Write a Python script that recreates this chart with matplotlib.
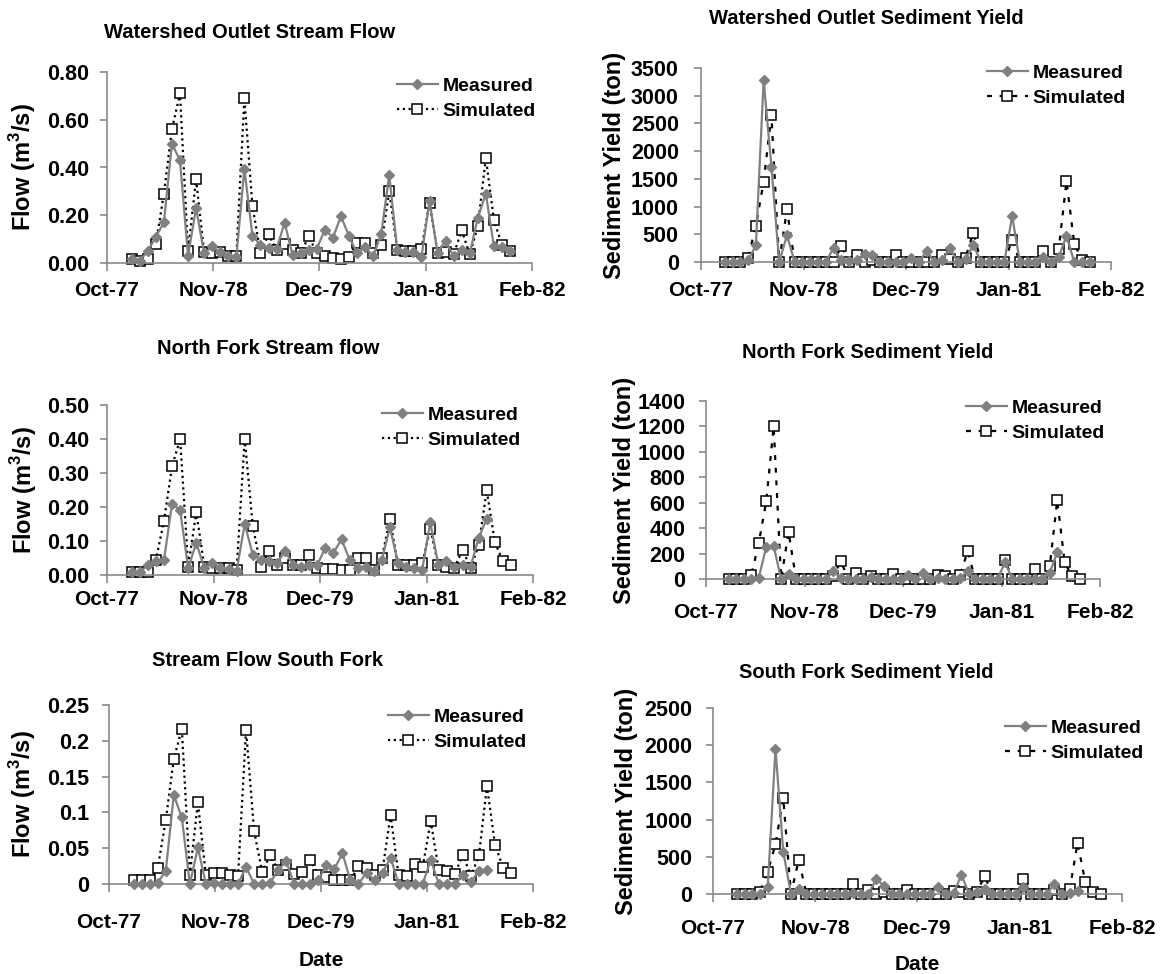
import matplotlib
matplotlib.use('Agg')
import matplotlib.pyplot as plt
import matplotlib.dates as mdates
from matplotlib.ticker import FuncFormatter
import numpy as np
import pandas as pd

nan = np.nan

plt.rcParams['font.family'] = ['Liberation Sans', 'DejaVu Sans']
plt.rcParams['font.weight'] = 'bold'
plt.rcParams['mathtext.fontset'] = 'custom'
plt.rcParams['mathtext.rm'] = 'Liberation Sans:bold'
plt.rcParams['mathtext.bf'] = 'Liberation Sans:bold'

# sampling dates (30 day steps from Jan-78) and axis ticks
dates = pd.date_range('1978-01-01', periods=48, freq='30D')
tick_dates = pd.date_range('1977-10-01', periods=5, freq='13MS')

# Watershed outlet flow (m3/s)
outlet_flow_meas = [0.015, 0.01, 0.05, 0.11, 0.17, 0.50, 0.43, 0.03, 0.23, 0.04,
                    0.07, 0.045, 0.03, 0.025, 0.395, 0.115, 0.074, 0.063, 0.06, 0.168,
                    0.032, 0.04, 0.056, 0.06, 0.14, 0.106, 0.196, 0.112, 0.04, 0.067,
                    0.028, 0.123, 0.368, 0.053, 0.046, 0.045, 0.025, 0.26, 0.043, 0.092,
                    0.028, 0.053, 0.04, 0.19, 0.29, 0.07, 0.065, 0.05]
outlet_flow_sim = [0.015, 0.01, 0.015, 0.08, 0.29, 0.56, 0.71, 0.05, 0.35, 0.045,
                   0.04, 0.045, 0.03, 0.03, 0.69, 0.24, 0.042, 0.12, 0.053, 0.078,
                   0.053, 0.04, 0.113, 0.04, 0.028, 0.022, 0.015, 0.025, 0.085, 0.085,
                   0.042, 0.077, 0.30, 0.053, 0.05, 0.05, 0.06, 0.252, 0.043, 0.046,
                   0.036, 0.137, 0.036, 0.153, 0.44, 0.18, 0.075, 0.05]

# Watershed outlet sediment yield (ton)
outlet_sed_meas = [0, 0, 0, 30, 300, 3280, 1720, 0, 480, 0,
                   0, 0, 0, 0, 250, 30, 20, 30, 150, 130,
                   0, 0, 0, 0, 80, 0, 200, 0, 30, 250,
                   0, 50, 310, 0, 0, 0, 0, 830, 0, 0,
                   0, 90, 0, 90, 470, 0, 0, 0]
outlet_sed_sim = [0, 0, 0, 80, 650, 1450, 2650, 0, 950, 0,
                  0, 0, 0, 0, 0, 290, 0, 130, 0, 30,
                  0, 0, 130, 0, 0, 0, 0, 0, 120, 60,
                  0, 80, 530, 0, 0, 0, 0, 400, 0, 0,
                  0, 200, 0, 230, 1460, 330, 40, 0]

# North fork flow (m3/s)
north_flow_meas = [0.008, 0.008, 0.03, 0.04, 0.045, 0.21, 0.19, 0.02, 0.095, 0.02,
                   0.035, 0.02, 0.018, 0.012, 0.15, 0.06, 0.045, 0.04, 0.035, 0.07,
                   0.03, 0.025, 0.03, 0.03, 0.08, 0.065, 0.105, 0.045, 0.02, 0.025,
                   0.012, 0.045, 0.14, 0.035, 0.025, 0.02, 0.015, 0.155, 0.03, 0.04,
                   0.025, 0.03, 0.025, 0.11, 0.165, nan, nan, nan]
north_flow_sim = [0.008, 0.008, 0.01, 0.045, 0.16, 0.32, 0.40, 0.025, 0.185, 0.025,
                  0.022, 0.02, 0.02, 0.015, 0.40, 0.145, 0.025, 0.07, 0.03, 0.05,
                  0.03, 0.03, 0.06, 0.02, 0.018, 0.018, 0.015, 0.015, 0.05, 0.05,
                  0.015, 0.05, 0.165, 0.03, 0.03, 0.03, 0.035, 0.135, 0.03, 0.025,
                  0.02, 0.075, 0.02, 0.087, 0.249, 0.097, 0.04, 0.03]

# North fork sediment yield (ton)
north_sed_meas = [0, 0, 0, 0, 10, 250, 260, 0, 40, 0,
                  0, 0, 0, 0, 60, 10, 0, 0, 0, 15,
                  0, 0, 0, 0, 30, 0, 50, 0, 10, 0,
                  0, 10, 60, 0, 0, 0, 0, 130, 0, 0,
                  0, 0, 0, 50, 210, nan, nan, nan]
north_sed_sim = [0, 0, 0, 30, 280, 610, 1200, 0, 370, 0,
                 0, 0, 0, 0, 20, 140, 0, 50, 0, 20,
                 0, 0, 40, 0, 0, 0, 0, 0, 30, 25,
                 0, 30, 220, 0, 0, 0, 0, 150, 0, 0,
                 0, 80, 0, 100, 620, 130, 20, 0]

# South fork flow (m3/s)
south_flow_meas = [0, 0, 0, 0.002, 0.018, 0.124, 0.093, 0, 0.051, 0,
                   0.002, 0, 0, 0, 0.024, 0, 0, 0.002, 0.019, 0.032,
                   0, 0, 0, 0.005, 0.027, 0.021, 0.043, 0.005, 0, 0.016,
                   0.005, 0.016, 0.037, 0, 0, 0, 0, 0.034, 0, 0,
                   0, 0.012, 0.003, 0.018, 0.02, nan, nan, nan]
south_flow_sim = [0.005, 0.005, 0.005, 0.022, 0.089, 0.174, 0.217, 0.013, 0.114, 0.012,
                  0.016, 0.015, 0.013, 0.011, 0.215, 0.074, 0.017, 0.04, 0.019, 0.027,
                  0.014, 0.017, 0.034, 0.012, 0.01, 0.006, 0.005, 0.005, 0.025, 0.023,
                  0.013, 0.02, 0.096, 0.012, 0.011, 0.028, 0.024, 0.088, 0.019, 0.018,
                  0.014, 0.041, 0.011, 0.04, 0.137, 0.055, 0.023, 0.015]

# South fork sediment yield (ton)
south_sed_meas = [0, 0, 0, 0, 100, 1950, 570, 0, 70, 0,
                  0, 0, 0, 0, 0, 10, 0, 0, 200, 110,
                  0, 0, 0, 0, 0, 0, 100, 0, 10, 260,
                  0, 30, 70, 0, 0, 0, 0, 100, 0, 0,
                  0, 130, 0, 20, 40, nan, nan, nan]
south_sed_sim = [0, 0, 0, 30, 300, 670, 1290, 0, 460, 0,
                 0, 0, 0, 0, 0, 130, 0, 60, 0, 30,
                 0, 0, 60, 0, 0, 0, 0, 0, 40, 30,
                 0, 30, 240, 0, 0, 0, 0, 200, 0, 0,
                 0, 60, 0, 70, 690, 160, 30, 0]

titles = ['Watershed Outlet Stream Flow', 'Watershed Outlet Sediment Yield',
          'North Fork Stream flow', 'North Fork Sediment Yield',
          'Stream Flow South Fork', 'South Fork Sediment Yield']

W, H = 1160, 974
fig = plt.figure(figsize=(W / 100, H / 100), dpi=100)

def px_axes(l, r, t, b):
    return fig.add_axes([l / W, 1 - b / H, (r - l) / W, (b - t) / H])

# layout in pixels: axes box, title centre, ylabel x, legend anchor, xtick pad, ytick pad
panels = [
    dict(meas=outlet_flow_meas, sim=outlet_flow_sim, box=(107, 532, 72, 263),
         ymax=0.8, step=0.2, fmt='{:.2f}', kind='flow', title=(250, 32),
         ylx=23, leg=(536, 77), xpad=7, ypad=8),
    dict(meas=outlet_sed_meas, sim=outlet_sed_sim, box=(701, 1111, 68, 262),
         ymax=3500, step=500, fmt='{:.0f}', kind='sed', title=(866, 18),
         ylx=615, leg=(1126, 64), xpad=8, ypad=11),
    dict(meas=north_flow_meas, sim=north_flow_sim, box=(107, 533, 405, 575),
         ymax=0.5, step=0.1, fmt='{:.2f}', kind='flow', title=(268, 348),
         ylx=24, leg=(521, 406), xpad=5, ypad=8),
    dict(meas=north_sed_meas, sim=north_sed_sim, box=(706, 1100, 401, 579),
         ymax=1400, step=200, fmt='{:.0f}', kind='sed', title=(868, 353),
         ylx=624, leg=(1105, 399), xpad=11, ypad=10),
    dict(meas=south_flow_meas, sim=south_flow_sim, box=(109, 533, 705, 884),
         ymax=0.25, step=0.05, fmt='{:g}', kind='flow', title=(268, 660),
         ylx=23, leg=(527, 708), xpad=15, ypad=9),
    dict(meas=south_sed_meas, sim=south_sed_sim, box=(713, 1122, 708, 894),
         ymax=2500, step=500, fmt='{:.0f}', kind='sed', title=(866, 672),
         ylx=627, leg=(1144, 719), xpad=12, ypad=10),
]

grey = '#808080'
for i, p in enumerate(panels):
    ax = px_axes(*p['box'])
    if p['kind'] == 'flow':
        ls = (0, (1, 1.6))
        ylab = 'Flow (m$^{3}$/s)'
    else:
        ls = (0, (2.2, 3.5))
        ylab = 'Sediment Yield (ton)'

    hs, = ax.plot(dates, p['sim'], color='black', lw=1.6, linestyle=ls,
                  marker='s', ms=7.5, mfc='white', mec='black', mew=1.1,
                  clip_on=False, zorder=2, label='Simulated')
    hm, = ax.plot(dates, p['meas'], color=grey, lw=1.6, marker='D', ms=5.5,
                  mfc=grey, mec=grey, clip_on=False, zorder=3, label='Measured')

    ax.set_xlim(tick_dates[0], tick_dates[-1])
    ax.set_ylim(0, p['ymax'])
    ax.set_xticks(tick_dates)
    ax.xaxis.set_major_formatter(mdates.DateFormatter('%b-%y'))
    ax.set_yticks(np.arange(0, p['ymax'] + p['step'] / 2, p['step']))
    fmt = p['fmt']
    ax.yaxis.set_major_formatter(FuncFormatter(lambda v, pos, fmt=fmt: fmt.format(v)))

    for s in ['top', 'right']:
        ax.spines[s].set_visible(False)
    for s in ['left', 'bottom']:
        ax.spines[s].set_color('#8a8a8a')
        ax.spines[s].set_linewidth(1.2)
    ax.tick_params(axis='x', direction='out', length=6, width=1.2, color='#8a8a8a',
                   labelsize=15, pad=p['xpad'])
    ax.tick_params(axis='y', direction='out', length=5, width=1.2, color='#8a8a8a',
                   labelsize=15.5, pad=p['ypad'])
    for lab in ax.get_xticklabels() + ax.get_yticklabels():
        lab.set_fontweight('bold')

    l, r, t, b = p['box']
    fig.text(p['ylx'] / W, 1 - (t + b) / 2 / H, ylab, rotation=90, ha='center',
             va='center', fontsize=17, fontweight='bold')
    fig.text(p['title'][0] / W, 1 - p['title'][1] / H, titles[i], ha='center',
             va='center', fontsize=14.5, fontweight='bold')

    ax.legend([hm, hs], ['Measured', 'Simulated'], loc='upper right',
              bbox_to_anchor=(p['leg'][0] / W, 1 - p['leg'][1] / H),
              bbox_transform=fig.transFigure, frameon=False,
              prop={'weight': 'bold', 'size': 14}, handlelength=2.1,
              handletextpad=0.25, labelspacing=0.4, borderpad=0, borderaxespad=0,
              numpoints=1)

fig.text((109 + 533) / 2 / W, 1 - 960 / H, 'Date', ha='center', va='center',
         fontsize=15, fontweight='bold')
fig.text((713 + 1122) / 2 / W, 1 - 965 / H, 'Date', ha='center', va='center',
         fontsize=15, fontweight='bold')

fig.savefig('out.png', dpi=100)
